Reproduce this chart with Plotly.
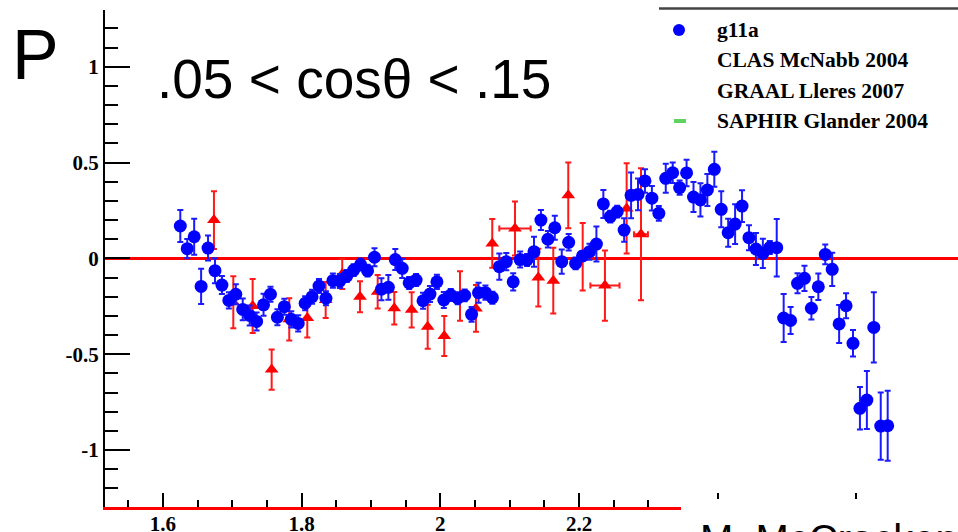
import plotly.graph_objects as go

# g11a polarization points: W (GeV), P and statistical error
g11a_w = [round(1.625 + 0.01 * k, 3) for k in range(103)]
g11a_p = [
    0.169, 0.051, 0.113, -0.146, 0.054, -0.064, -0.139, -0.219, -0.187, -0.266,
    -0.298, -0.329, -0.242, -0.187, -0.307, -0.252, -0.318, -0.339, -0.234, -0.200,
    -0.144, -0.208, -0.116, -0.118, -0.092, -0.061, -0.032, -0.064, 0.006, -0.161,
    -0.151, -0.006, -0.052, -0.128, -0.113, -0.221, -0.186, -0.122, -0.217, -0.191,
    -0.208, -0.193, -0.292, -0.179, -0.179, -0.205, -0.043, -0.017, -0.122, -0.006,
    -0.008, 0.035, 0.200, 0.100, 0.160, -0.017, 0.084, -0.026, 0.013, 0.035,
    0.075, 0.284, 0.218, 0.244, 0.148, 0.329, 0.334, 0.404, 0.314, 0.235,
    0.418, 0.447, 0.369, 0.446, 0.320, 0.305, 0.357, 0.465, 0.256, 0.134,
    0.179, 0.273, 0.108, 0.049, 0.026, 0.057, 0.056, -0.311, -0.324, -0.130,
    -0.104, -0.260, -0.148, 0.021, -0.057, -0.342, -0.247, -0.443, -0.782, -0.739,
    -0.360, -0.875, -0.873,
]
g11a_err = [
    0.083, 0.050, 0.094, 0.092, 0.065, 0.065, 0.047, 0.042, 0.052, 0.057,
    0.052, 0.047, 0.057, 0.039, 0.042, 0.042, 0.042, 0.042, 0.037, 0.037,
    0.037, 0.037, 0.037, 0.037, 0.031, 0.031, 0.031, 0.031, 0.047, 0.057,
    0.065, 0.055, 0.050, 0.031, 0.031, 0.042, 0.042, 0.037, 0.042, 0.031,
    0.031, 0.031, 0.039, 0.052, 0.037, 0.031, 0.068, 0.045, 0.045, 0.042,
    0.031, 0.078, 0.052, 0.043, 0.063, 0.063, 0.043, 0.031, 0.026, 0.042,
    0.091, 0.073, 0.031, 0.031, 0.061, 0.119, 0.083, 0.061, 0.064, 0.039,
    0.076, 0.054, 0.037, 0.069, 0.078, 0.087, 0.083, 0.091, 0.094, 0.073,
    0.104, 0.083, 0.065, 0.083, 0.076, 0.034, 0.150, 0.125, 0.071, 0.052,
    0.066, 0.059, 0.069, 0.052, 0.087, 0.099, 0.065, 0.069, 0.111, 0.151,
    0.183, 0.176, 0.183,
]

# earlier CLAS measurement
clas_w = [
    1.6735, 1.7014, 1.7293, 1.7567, 1.7821, 1.8081, 1.8346, 1.8585, 1.8841, 1.9096,
    1.9335, 1.9586, 1.9817, 2.0056, 2.0283, 2.0513, 2.0748, 2.1076, 2.1412, 2.1628,
    2.1844, 2.2052, 2.2373, 2.2686, 2.2893,
]
clas_p = [
    0.200, -0.229, -0.248, -0.580, -0.318, -0.311, -0.217, -0.081, -0.200, -0.174,
    -0.260, -0.268, -0.357, -0.405, -0.196, -0.261, 0.078, 0.156, -0.100, -0.116,
    0.329, 0.009, -0.142, 0.261, 0.126,
]
clas_err = [
    0.151, 0.136, 0.141, 0.105, 0.110, 0.102, 0.094, 0.078, 0.081, 0.087,
    0.085, 0.092, 0.115, 0.104, 0.129, 0.122, 0.127, 0.141, 0.151, 0.172,
    0.172, 0.176, 0.183, 0.235, 0.344,
]
clas_werr = [
    0, 0, 0, 0, 0, 0, 0, 0, 0, 0,
    0, 0, 0, 0, 0, 0, 0, 0.0226, 0, 0,
    0, 0, 0.021, 0, 0.010,
]

# labels beyond 2.2 sit under the credit box, so only their tick marks show
x_tickvals = [1.6, 1.8, 2.0, 2.2, 2.4, 2.6]
x_ticktext = ["1.6", "1.8", "2", "2.2", "", ""]
y_tickvals = [-1, -0.5, 0, 0.5, 1]
y_ticktext = ["-1", "-0.5", "0", "0.5", "1"]

legend_labels = ["g11a", "CLAS McNabb 2004", "GRAAL Lleres 2007", "SAPHIR Glander 2004"]

W, H = 958, 532
ML, MR, MT, MB = 105, 0, 10, 25
PW, PH = W - ML - MR, H - MT - MB


def px(x):
    return (x - ML) / PW


def py(y):
    return (H - MB - y) / PH


SERIF = "Liberation Serif"
SANS = "Liberation Sans"

fig = go.Figure()

fig.add_trace(go.Scatter(
    x=clas_w, y=clas_p, mode="markers",
    marker=dict(symbol="triangle-up", size=12, color="#ff0000"),
    error_y=dict(type="data", array=clas_err, color="#ff1a1a", thickness=2, width=3),
    error_x=dict(type="data", array=clas_werr, color="#ff1a1a", thickness=2, width=3),
    showlegend=False, cliponaxis=False,
))

fig.add_trace(go.Scatter(
    x=g11a_w, y=g11a_p, mode="markers",
    marker=dict(symbol="circle", size=13, color="#0000ff"),
    error_y=dict(type="data", array=g11a_err, color="#1a1aff", thickness=2, width=3),
    showlegend=False, cliponaxis=False,
))

shapes = [
    # zero reference line
    dict(type="line", xref="paper", yref="y", x0=0, x1=1, y0=0, y1=0,
         line=dict(color="#ff0000", width=3), layer="below"),
    # legend top rule
    dict(type="line", xref="paper", yref="paper", x0=px(659), x1=1.0,
         y0=py(8.5), y1=py(8.5), line=dict(color="#444444", width=2.5)),
    # legend markers
    dict(type="circle", xref="paper", yref="paper", x0=px(673), x1=px(685),
         y0=py(36), y1=py(24), fillcolor="#0000ff", line=dict(width=0)),
    dict(type="rect", xref="paper", yref="paper", x0=px(674), x1=px(686),
         y0=py(123), y1=py(119), fillcolor="#5fd35f", line=dict(width=0)),
    # credit box over lower right corner
    dict(type="rect", xref="paper", yref="paper", x0=px(681), x1=1.01,
         y0=py(533), y1=py(499), fillcolor="white", line=dict(width=0), layer="above"),
]

annotations = [
    dict(text="P", xref="paper", yref="paper", x=px(10), y=py(55),
         xanchor="left", yanchor="middle", showarrow=False,
         font=dict(family=SANS, size=70, color="black")),
    dict(text=".05 &lt; cosθ &lt; .15", xref="paper", yref="paper", x=px(155), y=py(79),
         xanchor="left", yanchor="middle", showarrow=False,
         font=dict(family=SANS, size=55, color="black")),
    dict(text="M. McCracken", xref="paper", yref="paper", x=px(698), y=py(515),
         xanchor="left", yanchor="top", showarrow=False,
         font=dict(family=SANS, size=40, color="black")),
]
for i, lab in enumerate(legend_labels):
    annotations.append(dict(
        text=lab, xref="paper", yref="paper", x=px(715), y=py(30 + 30.3 * i),
        xanchor="left", yanchor="middle", showarrow=False,
        font=dict(family=SERIF, size=21.5, color="black", weight="bold"),
    ))

fig.update_layout(
    width=W, height=H,
    margin=dict(l=ML, r=MR, t=MT, b=MB, pad=0, autoexpand=False),
    paper_bgcolor="white", plot_bgcolor="white",
    shapes=shapes, annotations=annotations,
    xaxis=dict(
        range=[1.5164, 2.7464], showgrid=False, zeroline=False, automargin=False,
        showline=True, linecolor="#ff0000", linewidth=2.5,
        tickvals=x_tickvals, ticktext=x_ticktext,
        ticks="inside", ticklen=14, tickwidth=2, tickcolor="black",
        ticklabelstandoff=-4,
        tickfont=dict(family=SERIF, size=21, color="black", weight="bold"),
        minor=dict(dtick=0.05, tick0=0, ticks="inside", ticklen=7, tickwidth=2, tickcolor="black"),
    ),
    yaxis=dict(
        range=[-1.297, 1.296], showgrid=False, zeroline=False, automargin=False,
        showline=True, linecolor="black", linewidth=2,
        tickvals=y_tickvals, ticktext=y_ticktext,
        ticks="inside", ticklen=25, tickwidth=2, tickcolor="black",
        tickfont=dict(family=SERIF, size=21, color="black", weight="bold"),
        minor=dict(dtick=0.1, tick0=0, ticks="inside", ticklen=13, tickwidth=2, tickcolor="black"),
    ),
)

fig.write_html("out.html")
